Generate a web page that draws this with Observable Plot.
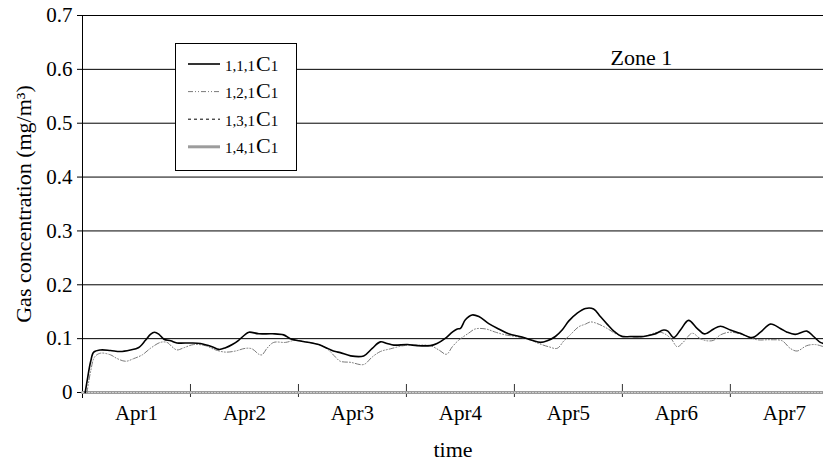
<!DOCTYPE html>
<html>
<head>
<meta charset="utf-8">
<script src="https://cdn.jsdelivr.net/npm/d3@7"></script>
<script src="https://cdn.jsdelivr.net/npm/@observablehq/plot@0.6"></script>
<style>
  html, body { margin: 0; padding: 0; background: #fff; }
  #chart svg { display: block; }
</style>
</head>
<body>
<div id="chart"></div>
<script>
// ---- data (hours since Apr1 00:00, gas concentration mg/m3) ----
const dayLabels = ["Apr1", "Apr2", "Apr3", "Apr4", "Apr5", "Apr6", "Apr7"];
const dayTicks = [24, 48, 72, 96, 120, 144];
const yTicks = [0, 0.1, 0.2, 0.3, 0.4, 0.5, 0.6, 0.7];
const yTickLabels = ["0", "0.1", "0.2", "0.3", "0.4", "0.5", "0.6", "0.7"];
const seriesNames = ["1,1,1", "1,2,1", "1,3,1", "1,4,1"];

const s1 = [[0.6,0],[1.0,0.02],[1.8,0.057],[2.5,0.075],[4,0.079],[6.2,0.078],[8.4,0.076],[10.7,0.079],[12.4,0.083],[14,0.097],[15.1,0.108],[16,0.112],[17,0.108],[18.1,0.099],[19.6,0.096],[21,0.092],[24,0.092],[26.2,0.091],[28.8,0.085],[30.3,0.080],[31.8,0.083],[33.3,0.089],[34.7,0.097],[36.2,0.108],[37,0.112],[39.2,0.109],[42.2,0.109],[44.7,0.107],[46.2,0.100],[48.1,0.096],[51,0.092],[52.5,0.089],[54.7,0.081],[56.2,0.076],[57.3,0.074],[59.6,0.068],[62.5,0.068],[64.4,0.082],[66.2,0.094],[67.7,0.091],[69.2,0.088],[72.2,0.089],[74.4,0.087],[77.3,0.087],[78.8,0.091],[80.7,0.101],[82.2,0.112],[83.3,0.118],[84,0.119],[85.1,0.135],[86.6,0.144],[88.1,0.141],[90.3,0.128],[92.5,0.118],[94.7,0.109],[97.7,0.103],[99.9,0.097],[101.8,0.093],[103.3,0.096],[105.1,0.104],[106.6,0.116],[108.1,0.133],[109.9,0.147],[111.8,0.156],[113.6,0.155],[115.1,0.141],[116.6,0.127],[118.1,0.114],[119.9,0.104],[121.8,0.104],[124.7,0.104],[127,0.108],[129.2,0.116],[130.1,0.114],[131.4,0.102],[132.9,0.116],[134.7,0.134],[136.6,0.119],[138.1,0.109],[138.8,0.110],[140.3,0.118],[141.8,0.123],[144,0.116],[146.2,0.110],[148.8,0.102],[150.7,0.112],[152.9,0.127],[155.1,0.119],[156.6,0.112],[158.4,0.108],[161,0.114],[162.5,0.104],[164,0.093],[164.7,0.091]];

const s2 = [[1,0],[1.8,0.039],[2.7,0.066],[4,0.073],[6.2,0.070],[7.7,0.063],[9.6,0.058],[11.4,0.063],[13.3,0.070],[15.1,0.082],[17.3,0.093],[18.8,0.093],[19.9,0.085],[21,0.079],[22.5,0.083],[24.7,0.089],[27.3,0.087],[29.6,0.079],[31.8,0.075],[34,0.077],[36.2,0.082],[37.7,0.081],[39.2,0.071],[39.9,0.070],[41,0.082],[42.5,0.093],[45.1,0.093],[47.3,0.097],[49.6,0.094],[52.5,0.089],[54.4,0.081],[56.2,0.066],[57.3,0.058],[59.6,0.056],[62.5,0.052],[64.4,0.066],[66.2,0.076],[68.4,0.081],[71.4,0.087],[74.4,0.088],[77.3,0.087],[79.2,0.079],[80.9,0.071],[82.2,0.085],[83.6,0.097],[85.8,0.110],[87.3,0.118],[89.6,0.118],[91.8,0.112],[94,0.107],[96.2,0.104],[99.2,0.099],[101.4,0.091],[103.6,0.085],[105.5,0.082],[107,0.096],[108.4,0.107],[110.3,0.122],[111.8,0.127],[112.9,0.131],[114.4,0.128],[116.6,0.119],[118.8,0.108],[121,0.104],[124.7,0.104],[128.4,0.112],[130.7,0.101],[132.2,0.085],[133.6,0.094],[135.5,0.110],[137.3,0.100],[138.8,0.096],[140.3,0.097],[141.8,0.107],[144,0.112],[146.9,0.107],[149.9,0.098],[152.9,0.098],[155.5,0.096],[157.3,0.082],[158.8,0.077],[161,0.087],[162.9,0.089],[164.7,0.085]];

const s3 = [[0,0],[164.7,0]];
const s4 = [[0,0],[164.7,0]];

const xMax = 164.7;
const labelPos = dayLabels.map((d, i) => 12 + 24 * i);

const serif = "Liberation Serif, DejaVu Serif, serif";

const chart = Plot.plot({
  width: 823,
  height: 462,
  marginLeft: 82,
  marginRight: 0,
  marginTop: 15,
  marginBottom: 70,
  style: { fontFamily: serif, fontSize: "21px", color: "#000", background: "#fff", overflow: "visible" },
  x: { domain: [0, xMax], type: "linear" },
  y: { domain: [0, 0.7] },
  marks: [
    Plot.gridY(yTicks.slice(1), { stroke: "#000", strokeOpacity: 1, strokeWidth: 1 }),
    Plot.axisY({ ticks: yTicks, tickFormat: (d) => yTickLabels[Math.round(d * 10)], tickSize: 5, tickPadding: 5, label: null, fontSize: 21, fontFamily: serif }),
    Plot.axisX({ ticks: dayTicks, tickSize: 13, dy: -8, tickFormat: () => "", label: null, stroke: "#333" }),
    Plot.axisX({ ticks: labelPos, tickSize: 0, tickPadding: 13, tickFormat: (d) => dayLabels[Math.round((d - 12) / 24)], label: null, fontSize: 21, fontFamily: serif }),
    Plot.ruleX([0], { stroke: "#000", strokeWidth: 1, insetBottom: -6 }),
    Plot.line(s3, { x: d => d[0], y: d => d[1], stroke: "#000", strokeDasharray: "3,3", strokeWidth: 1 }),
    Plot.line(s4, { x: d => d[0], y: d => d[1], stroke: "#9c9c9c", strokeWidth: 3 }),
    Plot.line(s4, { x: d => d[0], y: d => d[1], stroke: "#d4d4d4", strokeWidth: 1, strokeDasharray: "1,2" }),
    Plot.line(s2, { x: d => d[0], y: d => d[1], stroke: "#7a7a7a", strokeWidth: 1, strokeDasharray: "5,2,1,2,1,2", curve: "catmull-rom" }),
    Plot.line(s1, { x: d => d[0], y: d => d[1], stroke: "#000", strokeWidth: 1.6, curve: "catmull-rom" }),
    Plot.text(["Gas concentration (mg/m³)"], { frameAnchor: "left", textAnchor: "middle", lineAnchor: "middle", rotate: -90, dx: -59, fontSize: 22, fontFamily: serif, fill: "#000" }),
    Plot.text(["time"], { frameAnchor: "bottom", lineAnchor: "middle", textAnchor: "middle", dy: 57, fontSize: 22, fontFamily: serif, fill: "#000" }),
    Plot.text(["Zone 1"], { frameAnchor: "top-right", textAnchor: "start", lineAnchor: "middle", dx: -213, dy: 42, fontSize: 22, fontFamily: serif, fill: "#000" })
  ]
});

document.getElementById("chart").appendChild(chart);

// ---- legend (drawn on top, with white background) ----
const svg = d3.select(chart);
const lg = svg.append("g").attr("font-family", serif).attr("fill", "#000").attr("text-anchor", "start");
lg.append("rect").attr("x", 175.5).attr("y", 43.5).attr("width", 121).attr("height", 127)
  .attr("fill", "#fff").attr("stroke", "#000").attr("stroke-width", 1);
const legendStyles = [
  { stroke: "#000", width: 1.6, dash: null },
  { stroke: "#7a7a7a", width: 1, dash: "5,2,1,2,1,2" },
  { stroke: "#000", width: 1, dash: "3,3" },
  { stroke: "#9c9c9c", width: 3, dash: null }
];
seriesNames.forEach((name, i) => {
  const ly = 64 + i * 27.6;
  const st = legendStyles[i];
  const ln = lg.append("line").attr("x1", 188).attr("x2", 220).attr("y1", ly).attr("y2", ly)
    .attr("stroke", st.stroke).attr("stroke-width", st.width);
  if (st.dash) ln.attr("stroke-dasharray", st.dash);
  const t = lg.append("text").attr("x", 225).attr("y", ly + 6.5).attr("text-anchor", "start");
  t.append("tspan").attr("font-size", 15).text(name);
  t.append("tspan").attr("font-size", 22).attr("dx", 1).text("C");
  t.append("tspan").attr("font-size", 15).text("1");
});
</script>
</body>
</html>
